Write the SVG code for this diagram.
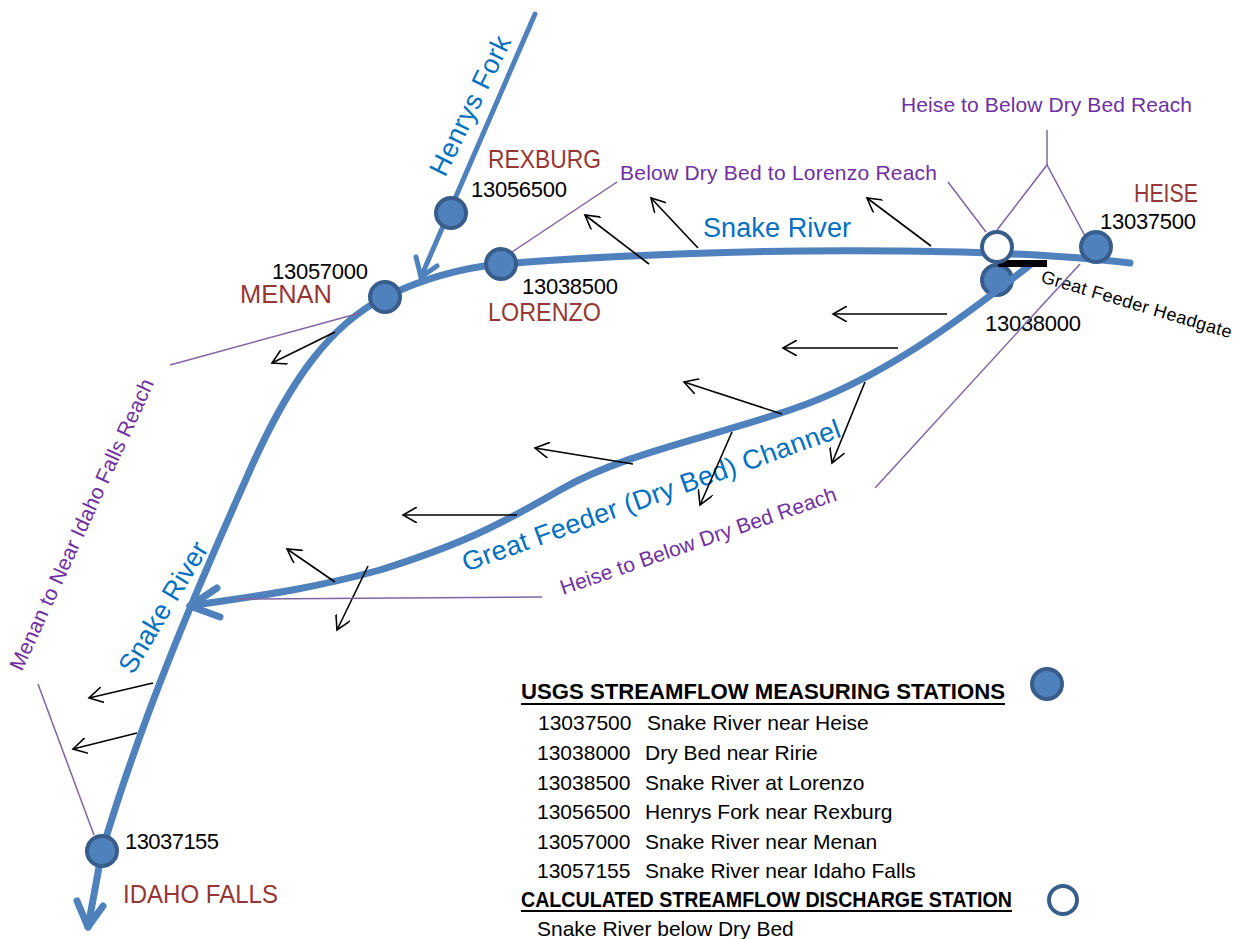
<svg xmlns="http://www.w3.org/2000/svg" width="1236" height="939" viewBox="0 0 1236 939">
<defs>
<style>
text{font-family:"Liberation Sans",Arial,sans-serif}
.river{fill:none;stroke:#4F81BD;stroke-width:7;stroke-linecap:round;stroke-linejoin:round}
.fork{fill:none;stroke:#4F81BD;stroke-width:5;stroke-linecap:round;stroke-linejoin:round}
.stn{fill:#4F81BD;stroke:#385D8A;stroke-width:4}
.calc{fill:#FFFFFF;stroke:#385D8A;stroke-width:4}
.arrow{fill:none;stroke:#000;stroke-width:1.6;marker-end:url(#ah)}
.lead{fill:none;stroke:#8064A2;stroke-width:1.5}
.num{font-size:22px;fill:#000}
.city{font-size:25px;fill:#953735}
.blue{font-size:27px;fill:#0070C0}
.purple{font-size:21px;fill:#7030A0}
.leg{font-size:21px;fill:#000}
.legh{font-size:22px;font-weight:bold;fill:#000}
</style>
<marker id="ah" viewBox="0 0 16 16" refX="14" refY="8" markerWidth="16" markerHeight="16" markerUnits="userSpaceOnUse" orient="auto">
<path d="M0,0 L14,8 L0,16" fill="none" stroke="#000" stroke-width="1.6"/>
</marker>
</defs>
<rect width="1236" height="939" fill="#FFFFFF"/>

<g id="station-13038000">
<circle class="stn" cx="997" cy="280" r="15"/>
<text class="num" x="985" y="331" textLength="96">13038000</text>
</g>

<g id="rivers">
<path id="snake-upper" class="river" d="M1130,263 C1080,257 1000,252 900,251 C760,249 600,256 501,264 C460,268 420,280 385,297"/>
<path id="snake-lower" class="river" d="M385,297 C330,325 290,380 250,470 C215,550 150,690 102,851 L88,927"/>
<path class="river" d="M77,901 L88,927 L103,906"/>
<path id="henrys-fork" class="fork" d="M535,14 L421,277"/>
<path class="fork" d="M416,257 L421,277 L437,266"/>
<path id="great-feeder" class="river" d="M1030,265 C960,320 880,380 790,410 C700,440 620,455 560,490 C500,525 460,545 380,570 C300,592 240,598 190,606"/>
<path class="river" d="M217,588 L190,606 L220,617"/>
<line id="headgate" x1="998" y1="263.5" x2="1047" y2="263.5" stroke="#000" stroke-width="7"/>
</g>

<g id="river-labels">
<text class="blue" x="703" y="237" textLength="148">Snake River</text>
<text class="blue" transform="translate(445,178) rotate(-64)" textLength="152">Henrys Fork</text>
<text class="blue" transform="translate(171,612) rotate(-59)" text-anchor="middle" textLength="148">Snake River</text>
<text class="blue" transform="translate(466,572) rotate(-19.8)" textLength="400">Great Feeder (Dry Bed) Channel</text>
<text transform="translate(1040,282) rotate(16.5)" font-size="18" fill="#000" textLength="198">Great Feeder Headgate</text>
</g>

<g id="connectors">
<line class="arrow" x1="649" y1="264" x2="585" y2="215"/>
<line class="arrow" x1="698" y1="248" x2="651" y2="198"/>
<line class="arrow" x1="931" y1="246" x2="867" y2="198"/>
<line class="arrow" x1="335" y1="332" x2="272" y2="363"/>
<line class="arrow" x1="947" y1="314" x2="833" y2="314"/>
<line class="arrow" x1="898" y1="348" x2="783" y2="348"/>
<line class="arrow" x1="782" y1="414" x2="684" y2="382"/>
<line class="arrow" x1="633" y1="464" x2="535" y2="448"/>
<line class="arrow" x1="517" y1="515" x2="403" y2="515"/>
<line class="arrow" x1="335" y1="582" x2="287" y2="549"/>
<line class="arrow" x1="368" y1="566" x2="337" y2="630"/>
<line class="arrow" x1="732" y1="432" x2="700" y2="505"/>
<line class="arrow" x1="865" y1="382" x2="832" y2="463"/>
<line class="arrow" x1="153" y1="683" x2="89" y2="698"/>
<line class="arrow" x1="137" y1="733" x2="73" y2="749"/>
<line class="lead" x1="512" y1="252" x2="617" y2="182"/>
<line class="lead" x1="948" y1="182" x2="986" y2="232"/>
<polyline class="lead" points="997,230 1047,165 1085,236"/>
<line class="lead" x1="1047" y1="130" x2="1047" y2="165"/>
<line class="lead" x1="1080" y1="264" x2="875" y2="488"/>
<line class="lead" x1="170" y1="365" x2="360" y2="313"/>
<line class="lead" x1="237" y1="599" x2="542" y2="597"/>
<line class="lead" x1="38" y1="684" x2="94" y2="835"/>
</g>

<g id="reach-labels">
<text class="purple" x="901" y="112" textLength="291">Heise to Below Dry Bed Reach</text>
<text class="purple" x="620" y="180" textLength="317">Below Dry Bed to Lorenzo Reach</text>
<text class="purple" transform="translate(563,595) rotate(-19)" textLength="291">Heise to Below Dry Bed Reach</text>
<text class="purple" transform="translate(22,672) rotate(-65.4)" textLength="318">Menan to Near Idaho Falls Reach</text>
</g>

<g id="station-below-dry-bed">
<circle class="calc" cx="997" cy="247" r="15"/>
</g>

<g id="station-13037500">
<circle class="stn" cx="1096" cy="247" r="15"/>
<text class="num" x="1100" y="229" textLength="96">13037500</text>
<text class="city" x="1134" y="202" textLength="64" lengthAdjust="spacingAndGlyphs">HEISE</text>
</g>

<g id="station-13038500">
<circle class="stn" cx="501" cy="264" r="15"/>
<text class="num" x="522" y="294" textLength="96">13038500</text>
<text class="city" x="488" y="321" font-size="24" textLength="113" lengthAdjust="spacingAndGlyphs">LORENZO</text>
</g>

<g id="station-13056500">
<circle class="stn" cx="451" cy="213" r="15"/>
<text class="num" x="471" y="197" textLength="96">13056500</text>
<text class="city" x="488" y="168" textLength="113" lengthAdjust="spacingAndGlyphs">REXBURG</text>
</g>

<g id="station-13057000">
<circle class="stn" cx="385" cy="297" r="15"/>
<text class="num" x="272" y="279" textLength="96">13057000</text>
<text class="city" x="240" y="303" textLength="92" lengthAdjust="spacingAndGlyphs">MENAN</text>
</g>

<g id="station-13037155">
<circle class="stn" cx="102" cy="851" r="15"/>
<text class="num" x="125" y="849" textLength="94">13037155</text>
<text class="city" x="123" y="903" textLength="155" lengthAdjust="spacingAndGlyphs">IDAHO FALLS</text>
</g>

<g id="legend">
<text class="legh" x="521" y="699" textLength="484" lengthAdjust="spacingAndGlyphs">USGS STREAMFLOW MEASURING STATIONS</text>
<line x1="521" y1="704" x2="1005" y2="704" stroke="#000" stroke-width="2"/>
<circle class="stn" cx="1047" cy="684" r="15"/>
<text class="leg" x="538" y="730">13037500</text><text class="leg" x="647" y="730">Snake River near Heise</text>
<text class="leg" x="537" y="760">13038000</text><text class="leg" x="645" y="760">Dry Bed near Ririe</text>
<text class="leg" x="537" y="790">13038500</text><text class="leg" x="645" y="790">Snake River at Lorenzo</text>
<text class="leg" x="537" y="819">13056500</text><text class="leg" x="645" y="819">Henrys Fork near Rexburg</text>
<text class="leg" x="537" y="849">13057000</text><text class="leg" x="645" y="849">Snake River near Menan</text>
<text class="leg" x="537" y="878">13057155</text><text class="leg" x="645" y="878">Snake River near Idaho Falls</text>
<text class="legh" x="521" y="907" textLength="491" lengthAdjust="spacingAndGlyphs">CALCULATED STREAMFLOW DISCHARGE STATION</text>
<line x1="521" y1="911" x2="1012" y2="911" stroke="#000" stroke-width="2"/>
<circle class="calc" cx="1063" cy="900" r="14"/>
<text class="leg" x="537" y="936">Snake River below Dry Bed</text>
</g>
</svg>
